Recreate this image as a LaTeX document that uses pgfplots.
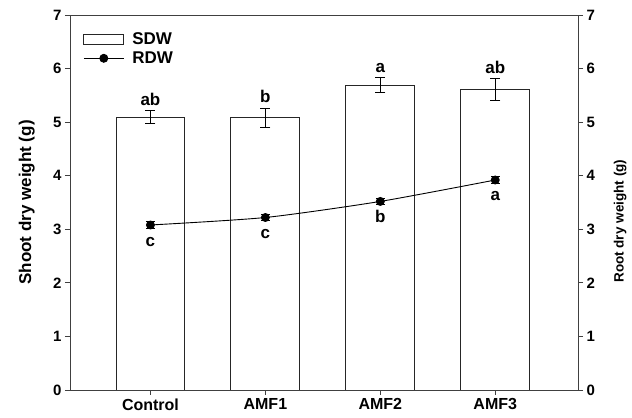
\documentclass[border=0pt]{standalone}
\usepackage{fontspec}
\setmainfont{Liberation Sans}
\usepackage{pgfplots}
\pgfplotsset{compat=1.18}
\begin{document}
\begin{tikzpicture}
\begin{axis}[
  name=main,
  scale only axis, width=508pt, height=375pt,
  xmin=-0.7, xmax=3.72, ymin=0, ymax=7,
  xtick={0,1,2,3}, xticklabels={Control,AMF1,AMF2,AMF3},
  ytick={0,1,...,7},
  xtick pos=bottom, ytick pos=left, tick align=outside,
  major tick length=5pt,
  axis line style={line width=0.9pt, black!75},
  tick style={line width=0.9pt, black!75},
  x tick label style={font=\bfseries\fontsize{16}{18}\selectfont, yshift=0pt},
  y tick label style={font=\bfseries\fontsize{15}{18}\selectfont},
  /pgf/number format/assume math mode=true,
  ylabel={Shoot dry weight (g)},
  ylabel style={font=\bfseries\fontsize{17}{20}\selectfont, at={(axis description cs:-0.085,0.5)}, anchor=center},
  legend style={at={(axis description cs:0.02,0.965)}, anchor=north west, draw=none, fill=none, font=\bfseries\fontsize{17}{20}\selectfont, row sep=2pt,
    /tikz/every odd column/.append style={column sep=6pt}},
  legend cell align=left,
]
\addplot[ybar, bar width=0.6, fill=white, draw=black!85, line width=0.9pt,
  legend image code/.code={\draw[black!85,fill=white,line width=0.9pt] (0pt,-5pt) rectangle (40pt,5pt);},
  error bars/.cd, y dir=both, y explicit,
  error bar style={line width=0.9pt,black},
  error mark options={rotate=90, black, mark size=5pt, line width=0.9pt}]
coordinates {(0,5.09) +- (0,0.12) (1,5.08) +- (0,0.18) (2,5.69) +- (0,0.14) (3,5.61) +- (0,0.20)};
\addlegendentry{SDW}
\addplot[black, line width=0.9pt, smooth, tension=0.4, mark=*, mark size=4pt, mark options={fill=black},
  legend image code/.code={\draw[black,line width=0.9pt] (0pt,0pt) -- (40pt,0pt); \fill[black] (20pt,0pt) circle (4pt);},
  error bars/.cd, y dir=both, y explicit,
  error bar style={line width=0.9pt,black},
  error mark options={rotate=90, black, mark size=4.5pt, line width=0.9pt}]
coordinates {(0,3.08) +- (0,0.07) (1,3.22) +- (0,0.06) (2,3.52) +- (0,0.05) (3,3.92) +- (0,0.06)};
\addlegendentry{RDW}
\begin{scope}[every node/.style={font=\bfseries\fontsize{17}{20}\selectfont, inner sep=0pt}]
\node[anchor=south, yshift=5pt] at (axis cs:0,5.21) {ab};
\node[anchor=south, yshift=5pt] at (axis cs:1,5.26) {b};
\node[anchor=south, yshift=5pt] at (axis cs:2,5.83) {a};
\node[anchor=south, yshift=5pt] at (axis cs:3,5.81) {ab};
\node[anchor=north, yshift=-12pt] at (axis cs:0,3.08) {c};
\node[anchor=north, yshift=-12pt] at (axis cs:1,3.22) {c};
\node[anchor=north, yshift=-9pt] at (axis cs:2,3.52) {b};
\node[anchor=north, yshift=-11pt] at (axis cs:3,3.92) {a};
\end{scope}
\end{axis}
\begin{axis}[
  scale only axis, width=508pt, height=375pt,
  xmin=-0.7, xmax=3.72, ymin=0, ymax=7,
  axis y line*=right, axis x line=none,
  ytick={0,1,...,7}, tick align=outside, major tick length=5pt,
  axis line style={line width=0.9pt, black!75},
  tick style={line width=0.9pt, black!75},
  y tick label style={font=\bfseries\fontsize{15}{18}\selectfont},
  /pgf/number format/assume math mode=true,
  ylabel={Root dry weight (g)},
  ylabel style={font=\bfseries\fontsize{13.5}{16}\selectfont, at={(axis description cs:1.083,0.45)}, anchor=center},
]
\addplot[draw=none] coordinates {(0,0)};
\end{axis}
\pgfresetboundingbox
\path[use as bounding box] ([xshift=-70pt,yshift=-28pt]main.south west) rectangle ([xshift=54pt,yshift=15pt]main.north east);
\end{tikzpicture}
\end{document}
